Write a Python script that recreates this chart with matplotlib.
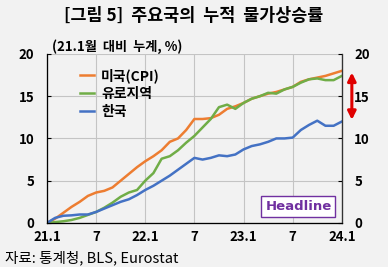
import numpy as np
import matplotlib
matplotlib.use('Agg')
import matplotlib.pyplot as plt

plt.rcParams['font.family'] = ['Noto Sans CJK KR', 'DejaVu Sans']

# cumulative inflation since 21.1 (%), monthly 21.1 ~ 24.1
us = [0, 0.5, 1.2, 1.9, 2.5, 3.2, 3.6, 3.8, 4.2, 5.0, 5.8, 6.6, 7.3,
      7.9, 8.6, 9.6, 10.0, 11.0, 12.3, 12.3, 12.4, 12.8, 13.5, 13.8, 14.2,
      14.7, 15.0, 15.3, 15.5, 15.8, 16.1, 16.7, 17.0, 17.2, 17.4, 17.7, 18.0]
euro = [0, 0.1, 0.2, 0.35, 0.6, 0.95, 1.3, 1.8, 2.4, 3.1, 3.6, 3.9, 5.0,
        5.9, 7.6, 7.9, 8.6, 9.5, 10.3, 11.3, 12.3, 13.7, 14.0, 13.5, 14.2,
        14.7, 15.0, 15.4, 15.3, 15.8, 16.1, 16.6, 17.0, 17.1, 16.9, 16.9, 17.4]
korea = [0, 0.6, 0.85, 0.9, 1.0, 1.0, 1.3, 1.7, 2.1, 2.5, 2.8, 3.3, 3.9,
         4.4, 5.0, 5.6, 6.3, 7.0, 7.7, 7.5, 7.7, 8.0, 7.9, 8.1, 8.7,
         9.1, 9.3, 9.6, 10.0, 10.0, 10.1, 11.0, 11.6, 12.1, 11.5, 11.5, 12.0]
series_names = ['미국(CPI)', '유로지역', '한국']
tick_labels = ['21.1', '7', '22.1', '7', '23.1', '7', '24.1']

bg = '#f2f2f2'
fig = plt.figure(figsize=(3.88, 2.67), dpi=100, facecolor=bg)
ax = fig.add_axes([0.121, 0.165, 0.760, 0.633], facecolor=bg)

m = np.arange(len(us))
ax.plot(m, us, color='#ed7d31', lw=1.8, label=series_names[0])
ax.plot(m, euro, color='#70ad47', lw=1.8, label=series_names[1])
ax.plot(m, korea, color='#4472c4', lw=1.8, label=series_names[2])

ax.set_xlim(0, 36)
ax.set_ylim(0, 20)
ax.set_xticks(np.arange(0, 37, 6))
ax.set_xticklabels(tick_labels, fontweight='bold', fontsize=9.5)
ax.set_yticks(np.arange(0, 21, 5))
ax.tick_params(axis='y', labelsize=9.5, pad=9, direction='in', length=3)
ax.tick_params(axis='x', length=0, pad=5)
for t in ax.get_yticklabels():
    t.set_fontweight('bold')
ax.grid(True, color='#c4c4c4', lw=0.8)
ax.spines['top'].set_visible(False)
for s in ['left', 'bottom', 'right']:
    ax.spines[s].set_color('#333333')
    ax.spines[s].set_linewidth(0.9)

ax2 = ax.twinx()
ax2.set_ylim(0, 20)
ax2.set_yticks(np.arange(0, 21, 5))
ax2.tick_params(axis='y', labelsize=9.5, pad=9, direction='in', length=3)
for t in ax2.get_yticklabels():
    t.set_fontweight('bold')
ax2.spines['top'].set_visible(False)
ax2.spines['right'].set_color('#333333')

leg = ax.legend(loc='upper left', bbox_to_anchor=(0.07, 0.99), frameon=False,
                fontsize=10, handlelength=1.0, handletextpad=0.5, labelspacing=0.3)
for t in leg.get_texts():
    t.set_fontweight('bold')

ax.text(0.965, 0.1, 'Headline', transform=ax.transAxes, ha='right', va='center',
        color='#7030a0', fontsize=9.5, fontweight='bold', family='DejaVu Sans',
        bbox=dict(boxstyle='square,pad=0.3', fc='white', ec='#7030a0', lw=1))

ax.annotate('', xy=(1.034, 12.2 / 20), xytext=(1.034, 17.8 / 20),
            xycoords='axes fraction', textcoords='axes fraction',
            arrowprops=dict(arrowstyle='<|-|>', color='#e00000', lw=2.2,
                            mutation_scale=12, shrinkA=0, shrinkB=0),
            annotation_clip=False)

fig.text(0.5, 0.94, '[그림 5]  주요국의  누적  물가상승률', ha='center', va='center',
         fontsize=12.5, fontweight='bold')
fig.text(0.133, 0.825, '(21.1월  대비  누계, %)', ha='left', va='center',
         fontsize=9.5, fontweight='bold')
fig.text(0.012, 0.035, '자료: 통계청, BLS, Eurostat', ha='left', va='center',
         fontsize=10.5)

fig.savefig('out.png', dpi=100, facecolor=bg)
